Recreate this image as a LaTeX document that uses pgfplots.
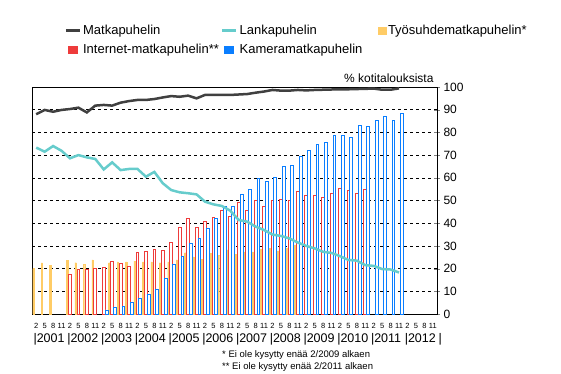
\documentclass[border=0pt]{standalone}
\usepackage{pgfplots}
\pgfplotsset{compat=1.18}
\usepackage{fontspec}
\setmainfont{Liberation Sans}
\definecolor{cDark}{HTML}{404040}
\definecolor{cTeal}{HTML}{66CCCC}
\definecolor{cOrange}{HTML}{FFCC66}
\definecolor{cRed}{HTML}{EE3B3B}
\definecolor{cBlue}{HTML}{0A7EFF}
\newcommand\yl[1]{\fontsize{12.5}{14}\selectfont|#1}
\begin{document}
\begin{tikzpicture}
\begin{axis}[
  name=ax,
  scale only axis, width=405pt, height=227pt,
  xmin=0, xmax=144, ymin=0, ymax=100,
  axis line style={line width=0.8pt},
  ytick={0,10,...,100},
  ytick pos=right, yticklabel pos=right,
  tick align=center,
  major tick length=6pt,
  /pgf/number format/assume math mode=true,
  y tick label style={font=\fontsize{12}{14}\selectfont},
  ymajorgrids,
  grid style={black, line width=0.6pt, dash pattern=on 3pt off 3pt},
  xtick={1.5,4.5,...,142.5},
  xticklabels={2,5,8,11,2,5,8,11,2,5,8,11,2,5,8,11,2,5,8,11,2,5,8,11,2,5,8,11,2,5,8,11,2,5,8,11,2,5,8,11,2,5,8,11,2,5,8,11},
  x tick style={draw=none},
  x tick label style={font=\fontsize{7.5}{8}\selectfont, yshift=-3pt},
  extra x ticks={0,12,...,144},
  extra x tick labels={\yl{2001},\yl{2002},\yl{2003},\yl{2004},\yl{2005},\yl{2006},\yl{2007},\yl{2008},\yl{2009},\yl{2010},\yl{2011},\yl{2012},\yl{}},
  extra x tick style={grid=none, major tick length=0pt, tick label style={anchor=north west, xshift=-2pt, yshift=-13pt}},
  legend columns=3,
  legend cell align=left,
  legend style={draw=none, fill=none, at={(axis description cs:0.08,1)}, anchor=north west, yshift=64pt,
    font=\fontsize{13}{15}\selectfont, row sep=4pt, inner sep=0pt,
    /tikz/every even column/.append style={column sep=0pt}},
]
\addlegendimage{legend image code/.code={\draw[line width=2.5pt,cDark] (0pt,0pt) -- (14pt,0pt);}}
\addlegendentry{\makebox[136pt][l]{Matkapuhelin}}
\addlegendimage{legend image code/.code={\draw[line width=2.5pt,cTeal] (0pt,0pt) -- (14pt,0pt);}}
\addlegendentry{\makebox[136pt][l]{Lankapuhelin}}
\addlegendimage{legend image code/.code={\fill[cOrange] (2pt,-3.5pt) rectangle (10pt,3.5pt);}}
\addlegendentry{Työsuhdematkapuhelin*}
\addlegendimage{legend image code/.code={\fill[cRed] (2pt,-3.5pt) rectangle (11pt,3.5pt);}}
\addlegendentry{Internet-matkapuhelin**}
\addlegendimage{legend image code/.code={\fill[cBlue] (2pt,-3.5pt) rectangle (11pt,3.5pt);}}
\addlegendentry{Kameramatkapuhelin}

% Tyosuhdematkapuhelin*
\addplot[ybar, bar shift=0pt, bar width=0.5, draw=cOrange, fill=cOrange, line width=0.4pt, forget plot] table {
x y
0.5 20
3.5 22.5
6.5 21.5
12.5 23.5
15.5 22.6
18.5 22
21.5 23.8
27.5 22.6
30.5 23
33.5 23
36.5 23.3
39.5 23
42.5 23
45.5 22.6
48.5 23
51.5 23.8
54.5 27
57.5 25.2
60.5 24.1
63.5 26.7
66.5 25.8
69.5 28.2
72.5 26.4
75.5 27.4
78.5 27.4
81.5 28.5
84.5 28.9
87.5 27.8
90.5 29
93.5 30.4
};
% Internet-matkapuhelin**
\addplot[ybar, bar shift=0pt, bar width=1, draw=cRed, fill=white, line width=0.8pt, forget plot] table {
x y
13.5 17.6
16.5 19.8
19.5 19.7
22.5 20.3
25.5 20.6
28.5 23
31.5 22.3
34.5 21.1
37.5 27.2
40.5 27.5
43.5 28.5
46.5 28
49.5 31.6
52.5 38.2
55.5 42.1
58.5 38.2
61.5 40.8
64.5 42.7
67.5 45.8
70.5 42.9
73.5 49
76.5 45.8
79.5 49.9
82.5 47.6
85.5 49.9
88.5 50.7
91.5 50.2
94.5 54.2
97.5 52.4
100.5 52.4
103.5 51.4
106.5 53.2
109.5 55.4
112.5 54.6
115.5 53.2
118.5 54.9
};
% Kameramatkapuhelin
\addplot[ybar, bar shift=0pt, bar width=1, draw=cBlue, fill=white, line width=0.8pt, forget plot] table {
x y
26.5 1.8
29.5 3
32.5 3.2
35.5 5.1
38.5 6.9
41.5 8.7
44.5 11
47.5 15.7
50.5 22
53.5 25.5
56.5 31.1
59.5 33.3
62.5 37.7
65.5 42.2
68.5 47.3
71.5 47.3
74.5 52.7
77.5 54.9
80.5 59.6
83.5 58.3
86.5 60.2
89.5 64.9
92.5 65.5
95.5 69.6
98.5 72.2
101.5 74.9
104.5 75.8
107.5 78.9
110.5 78.7
113.5 77.8
116.5 83.3
119.5 82.8
122.5 85.5
125.5 87.2
128.5 85.5
131.5 88.5
};
% Lankapuhelin
\addplot[cTeal, line width=2.5pt, no markers, forget plot] table {
x y
1.5 73.3
4.5 71.5
7.5 74
10.5 71.9
13.5 68.6
16.5 70
19.5 69
22.5 68.3
25.5 63.7
28.5 66.8
31.5 63.4
34.5 63.9
37.5 63.9
40.5 60.5
43.5 62.6
46.5 57.6
49.5 54.6
52.5 53.6
55.5 53.2
58.5 52.7
61.5 49.5
64.5 48.3
67.5 47.6
70.5 45.5
73.5 41.4
76.5 40.7
79.5 38.5
82.5 37
85.5 35
88.5 34.4
91.5 33.3
94.5 31.5
97.5 30
100.5 28.9
103.5 27.4
106.5 26.9
109.5 25.5
112.5 23.8
115.5 23.5
118.5 21.5
121.5 21.2
124.5 19.8
127.5 19.6
130.5 18.3
};
% Matkapuhelin
\addplot[cDark, line width=2.5pt, no markers, forget plot] table {
x y
1.5 88
4.5 89.9
7.5 89.1
10.5 89.9
13.5 90.3
16.5 90.9
19.5 88.8
22.5 91.8
25.5 92.1
28.5 91.8
31.5 93.1
34.5 93.8
37.5 94.3
40.5 94.3
43.5 94.7
46.5 95.4
49.5 96
52.5 95.7
55.5 96.2
58.5 95
61.5 96.5
64.5 96.5
67.5 96.5
70.5 96.5
73.5 96.7
76.5 96.9
79.5 97.5
82.5 98
85.5 98.7
88.5 98.4
91.5 98.4
94.5 98.7
97.5 98.5
100.5 98.7
103.5 98.8
106.5 98.9
109.5 99
112.5 99
115.5 99.1
118.5 99.2
121.5 99.3
124.5 98.8
127.5 98.8
130.5 99.4
};
\end{axis}
\node[anchor=base east, font=\fontsize{12}{14}\selectfont] at ([yshift=5pt]ax.north east) {\% kotitalouksista};
\node[anchor=west, font=\fontsize{9.5}{11}\selectfont, inner sep=0pt] at ([shift={(190pt,-41pt)}]ax.south west) {* Ei ole kysytty enää 2/2009 alkaen};
\node[anchor=west, font=\fontsize{9.5}{11}\selectfont, inner sep=0pt] at ([shift={(190pt,-53pt)}]ax.south west) {** Ei ole kysytty enää 2/2011 alkaen};
\pgfresetboundingbox
\path[use as bounding box] ([shift={(-32pt,-59pt)}]ax.south west) rectangle ([shift={(124pt,87pt)}]ax.north east);
\end{tikzpicture}
\end{document}
